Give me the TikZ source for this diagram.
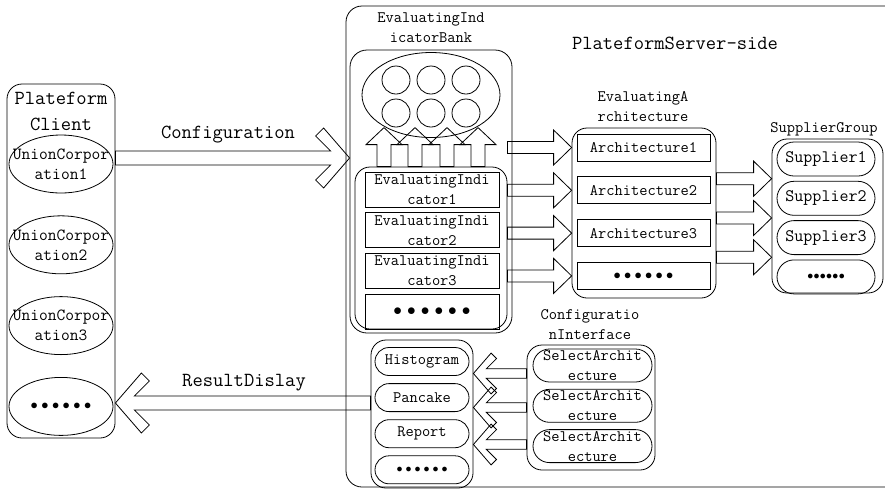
\documentclass[tikz,border=0pt]{standalone}
\usepackage{fontspec}
\usepackage{tikz}
\usetikzlibrary{calc,positioning,shapes.geometric}
\newcommand\bigtt{\fontsize{20}{26}\selectfont\ttfamily}
\newcommand\corptt{\fontsize{17}{20}\selectfont\ttfamily}
\newcommand\smalltt{\fontsize{16}{20}\selectfont\ttfamily}
\newcommand\sixdots[1]{\foreach\dotno in {1,...,6}{\makebox[#1]{$\bullet$}}}
\tikzset{
  evgroup/.style={draw=black, line width=0.8pt, rounded corners=15pt, inner sep=0pt},
  evrow/.style={draw=black, line width=0.8pt, inner sep=0pt, font=\smalltt},
  evpill/.style={draw=black, line width=0.8pt, rounded corners=#1, inner sep=0pt, font=\smalltt},
  evcorp/.style={ellipse, draw=black, line width=0.8pt, minimum width=104pt, minimum height=58pt, inner sep=0pt},
  evball/.style={circle, draw=black, line width=0.8pt, minimum size=28pt, inner sep=0pt},
  evtitle/.style={font=\smalltt, align=center, inner sep=0pt},
  evinner/.style={font=\smalltt, align=center, inner sep=0pt},
  evcorptxt/.style={font=\corptt, align=center, inner sep=0pt},
  evbig/.style={font=\bigtt, align=center, inner sep=0pt},
  blockarrow/.style n args={3}{line width=0.8pt, to path={
    ($(\tikztostart)!#1!90:(\tikztotarget)$)
    -- ($($(\tikztotarget)!#3!(\tikztostart)$)!#1!-90:(\tikztostart)$)
    -- ($($(\tikztotarget)!#3!(\tikztostart)$)!#2!-90:(\tikztostart)$)
    -- (\tikztotarget)
    -- ($($(\tikztotarget)!#3!(\tikztostart)$)!#2!90:(\tikztostart)$)
    -- ($($(\tikztotarget)!#3!(\tikztostart)$)!#1!90:(\tikztostart)$)
    -- ($(\tikztostart)!#1!-90:(\tikztotarget)$) -- cycle}},
  evblock/.style={blockarrow={6pt}{17.5pt}{18pt}},
  evup/.style={blockarrow={7pt}{18pt}{17pt}},
  chevron/.style={line width=0.8pt, to path={
    ($(\tikztostart)!#1*7pt!90:(\tikztotarget)$)
    -- ($($(\tikztotarget)!#1*19pt!(\tikztostart)$)!#1*7pt!-90:(\tikztostart)$)
    -- ($($(\tikztotarget)!#1*34pt!(\tikztostart)$)!#1*22pt!-90:(\tikztostart)$)
    -- ($($(\tikztotarget)!#1*26pt!(\tikztostart)$)!#1*30pt!-90:(\tikztostart)$)
    -- (\tikztotarget)
    -- ($($(\tikztotarget)!#1*26pt!(\tikztostart)$)!#1*30pt!90:(\tikztostart)$)
    -- ($($(\tikztotarget)!#1*34pt!(\tikztostart)$)!#1*22pt!90:(\tikztostart)$)
    -- ($($(\tikztotarget)!#1*19pt!(\tikztostart)$)!#1*7pt!90:(\tikztostart)$)
    -- ($(\tikztostart)!#1*7pt!-90:(\tikztotarget)$) -- cycle}},
  evchev/.style={chevron=1},
  evchevsmall/.style={chevron=0.68}
}
\begin{document}
\begin{tikzpicture}[x=1pt,y=-1pt]
  \useasboundingbox (0,0) rectangle (885,491);
  \clip (0,0) rectangle (885,491);
  % client side
  \node[evgroup, minimum width=108pt, minimum height=354pt] (client) at (61,261) {};
  \node[evbig] (clienttitle) at (61,111) {Plateform\\Client};
  \node[evcorp, label={[evcorptxt]center:UnionCorpor\\ation1}] (corp1) at (61,164) {};
  \node[evcorp, below=22pt of corp1, label={[evcorptxt]center:UnionCorpor\\ation2}] (corp2) {};
  \node[evcorp, below=22pt of corp2, label={[evcorptxt]center:UnionCorpor\\ation3}] (corp3) {};
  \node[evcorp, below=22pt of corp3, font=\fontsize{15}{20}\selectfont] (corp4) {\sixdots{10.7pt}};
  % server side
  \node[evgroup, rounded corners=16pt, minimum width=560pt, minimum height=481pt] (server) at (626,246.5) {};
  \node[evbig] (servertitle) at (675,43) {PlateformServer-side};
  % indicator bank
  \node[evtitle] (banktitle) at (431,27.5) {EvaluatingInd\\icatorBank};
  \node[evgroup, rounded corners=17pt, minimum width=162pt, minimum height=283pt] (bank) at (431,191.5) {};
  \node[ellipse, draw=black, line width=0.8pt, minimum width=138pt, minimum height=85pt] (pool) at (431,95) {};
  \foreach \cx/\cy/\n in {396/80/1, 431/80/2, 466/80/3, 396/113/4, 431/113/5, 466/113/6}
    \node[evball] (ball\n) at (\cx,\cy) {};
  \node[evgroup, minimum width=152pt, minimum height=162pt] (indgrp) at (431,248) {};
  \node[evrow, minimum width=134pt, minimum height=35pt, label={[evinner]center:EvaluatingIndi\\cator1}] (ind1) at (432,189.5) {};
  \node[evrow, minimum width=134pt, minimum height=35pt, below=5pt of ind1, label={[evinner]center:EvaluatingIndi\\cator2}] (ind2) {};
  \node[evrow, minimum width=134pt, minimum height=35pt, below=5pt of ind2, label={[evinner]center:EvaluatingIndi\\cator3}] (ind3) {};
  \node[evrow, minimum width=134pt, minimum height=35pt, below=5pt of ind3, font=\fontsize{17}{20}\selectfont] (ind4) {\sixdots{13.7pt}};
  \foreach \dx in {-47,-16,16,47}
    \draw[evup] ([xshift=\dx]indgrp.north) to ([xshift=\dx,yshift=39]indgrp.north);
  % architectures
  \node[evtitle] (archtitle) at (643,106.5) {EvaluatingA\\rchitecture};
  \node[evgroup, minimum width=144pt, minimum height=170pt] (archgrp) at (644,213) {};
  \node[evrow, minimum width=133pt, minimum height=27pt] (arch1) at (643.5,147.5) {Architecture1};
  \node[evrow, minimum width=133pt, minimum height=27pt, below=15pt of arch1] (arch2) {Architecture2};
  \node[evrow, minimum width=133pt, minimum height=27pt, below=15pt of arch2] (arch3) {Architecture3};
  \node[evrow, minimum width=133pt, minimum height=27pt, below=15pt of arch3, font=\fontsize{14.5}{20}\selectfont] (arch4) {\sixdots{10.5pt}};
  \foreach \a in {1,...,4}
    \draw[evblock] (indgrp.east |- arch\a) to (archgrp.west |- arch\a);
  % suppliers
  \node[evtitle] (suptitle) at (824,129) {SupplierGroup};
  \node[evgroup, minimum width=111pt, minimum height=154pt] (supgrp) at (827.5,216) {};
  \node[evpill=17pt, minimum width=98pt, minimum height=34pt, font=\fontsize{17.5}{20}\selectfont\ttfamily] (sup1) at (826,159) {Supplier1};
  \node[evpill=17pt, minimum width=98pt, minimum height=34pt, font=\fontsize{17.5}{20}\selectfont\ttfamily, below=4.5pt of sup1] (sup2) {Supplier2};
  \node[evpill=17pt, minimum width=98pt, minimum height=34pt, font=\fontsize{17.5}{20}\selectfont\ttfamily, below=4.5pt of sup2] (sup3) {Supplier3};
  \node[evpill=17pt, minimum width=98pt, minimum height=34pt, font=\fontsize{12}{20}\selectfont, below=4.5pt of sup3] (sup4) {\sixdots{6.3pt}};
  \coordinate (gap1) at ($(sup1)!.5!(sup2)$);
  \coordinate (gap2) at ($(sup2)!.5!(sup3)$);
  \coordinate (gap3) at ($(sup3)!.5!(sup4)$);
  \foreach \g in {1,2,3}
    \draw[evblock] (archgrp.east |- gap\g) to (supgrp.west |- gap\g);
  % result display
  \node[evgroup, minimum width=102pt, minimum height=148pt] (resgrp) at (422,414) {};
  \node[evpill=14pt, minimum width=94pt, minimum height=28pt] (res1) at (422,361.5) {Histogram};
  \node[evpill=14pt, minimum width=94pt, minimum height=28pt, below=7.3pt of res1] (res2) {Pancake};
  \node[evpill=14pt, minimum width=94pt, minimum height=28pt, below=7.3pt of res2] (res3) {Report};
  \node[evpill=14pt, minimum width=94pt, minimum height=28pt, below=7.3pt of res3, font=\fontsize{13}{20}\selectfont] (res4) {\sixdots{9pt}};
  % configuration interface
  \node[evtitle] (cfgtitle) at (590,325) {Configuratio\\nInterface};
  \node[evgroup, minimum width=128pt, minimum height=125pt] (cfggrp) at (591,407.5) {};
  \node[evpill=16.5pt, minimum width=119pt, minimum height=33pt, label={[evinner]center:SelectArchit\\ecture}] (sel1) at (592.5,365.5) {};
  \node[evpill=16.5pt, minimum width=119pt, minimum height=33pt, below=6.5pt of sel1, label={[evinner]center:SelectArchit\\ecture}] (sel2) {};
  \node[evpill=16.5pt, minimum width=119pt, minimum height=33pt, below=6.5pt of sel2, label={[evinner]center:SelectArchit\\ecture}] (sel3) {};
  \foreach \ry in {373.5,407.5,444.5}
    \draw[evchevsmall] (cfggrp.west |- 0,\ry) to (resgrp.east |- 0,\ry);
  % client <-> server
  \coordinate (cfgrow) at (0,158);
  \coordinate (resrow) at (0,403);
  \draw[evchev] (client.east |- cfgrow) to (bank.west |- cfgrow);
  \node[evbig] (cfglabel) at (228,135) {Configuration};
  \draw[evchev] (resgrp.west |- resrow) to (client.east |- resrow);
  \node[evbig] (reslabel) at (244,383) {ResultDislay};
\end{tikzpicture}
\end{document}
